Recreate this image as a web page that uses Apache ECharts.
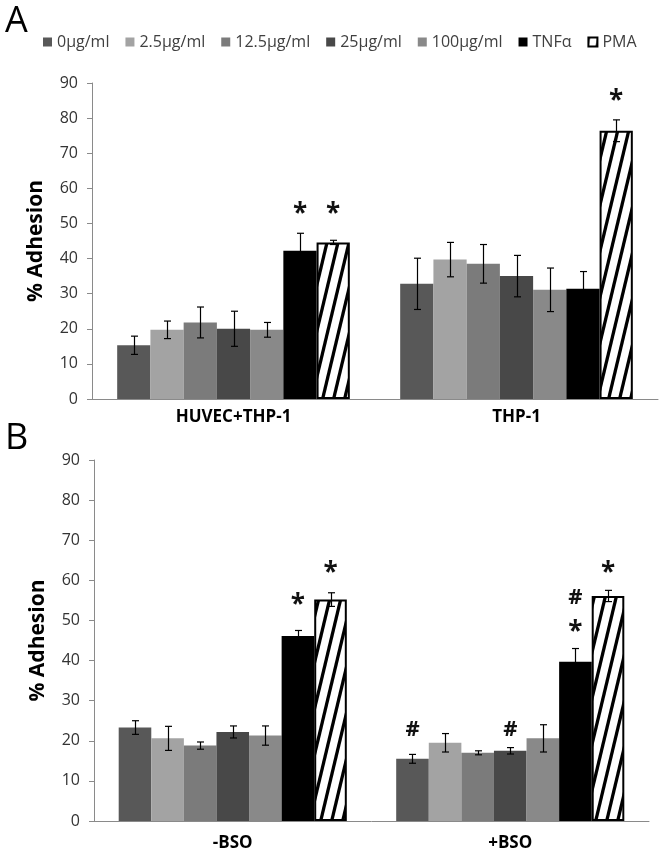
<!DOCTYPE html>
<html>
<head>
<meta charset="utf-8">
<script src="https://cdn.jsdelivr.net/npm/echarts@6/dist/echarts.min.js"></script>
<style>
html,body{margin:0;padding:0;background:#fff;}
#chart{width:664px;height:854px;}
</style>
</head>
<body>
<div id="chart"></div>
<script>
// ---------- DATA ----------
const seriesNames = ['0µg/ml', '2.5µg/ml', '12.5µg/ml', '25µg/ml', '100µg/ml', 'TNFα', 'PMA'];
const categoriesA = ['HUVEC+THP-1', 'THP-1'];
const categoriesB = ['-BSO', '+BSO'];
const yTicks = [0, 10, 20, 30, 40, 50, 60, 70, 80, 90];

// Panel A: mean % adhesion per treatment, [HUVEC+THP-1, THP-1]
const meanA = [
  [15.3, 32.8],
  [19.7, 39.7],
  [21.8, 38.5],
  [20.0, 35.0],
  [19.7, 31.1],
  [42.2, 31.4],
  [44.6, 76.4]
];
const errA = [
  [2.6, 7.3],
  [2.5, 4.9],
  [4.4, 5.5],
  [5.0, 5.9],
  [2.1, 6.2],
  [5.0, 4.9],
  [0.6, 3.1]
];
// Panel B: [-BSO, +BSO]
const meanB = [
  [23.3, 15.5],
  [20.6, 19.5],
  [18.8, 17.0],
  [22.2, 17.5],
  [21.3, 20.6],
  [46.1, 39.7],
  [55.2, 56.1]
];
const errB = [
  [1.7, 1.1],
  [3.0, 2.3],
  [0.9, 0.5],
  [1.5, 0.8],
  [2.4, 3.4],
  [1.4, 3.3],
  [1.7, 1.4]
];
// significance marks: [category, series, symbol, height in % adhesion]
const marksA = [
  [0, 5, '*', 54.5],
  [0, 6, '*', 54.5],
  [1, 6, '*', 86.6]
];
const marksB = [
  [0, 5, '*', 55.5],
  [0, 6, '*', 63.4],
  [1, 0, '#', 23.1],
  [1, 3, '#', 23.1],
  [1, 5, '#', 55.9],
  [1, 5, '*', 48.6],
  [1, 6, '*', 63.4]
];

// ---------- STYLE ----------
const colors = ['#585858', '#a3a3a3', '#7b7b7b', '#484848', '#898989', '#000000'];
const FONT = '"Open Sans", "Noto Sans", sans-serif';
const CAT_GAP = 0.178;

function makeHatch() {
  const W = 11, H = 46;
  const c = document.createElement('canvas');
  c.width = W; c.height = H;
  const ctx = c.getContext('2d');
  ctx.fillStyle = '#fff';
  ctx.fillRect(0, 0, W, H);
  ctx.strokeStyle = '#000';
  ctx.lineWidth = 3.3;
  for (const x0 of [-W, 0, W]) {
    ctx.beginPath();
    ctx.moveTo(x0 - W * 0.3, H * 1.3);
    ctx.lineTo(x0 + W * 1.3, -H * 0.3);
    ctx.stroke();
  }
  return c;
}
const hatch = makeHatch();

function barSeries(means, axisIdx) {
  return seriesNames.map((name, s) => {
    const isPMA = s === 6;
    return {
      name: name,
      type: 'bar',
      xAxisIndex: axisIdx,
      yAxisIndex: axisIdx,
      barGap: '0%',
      barCategoryGap: (CAT_GAP * 100) + '%',
      data: means[s],
      itemStyle: isPMA
        ? { color: { image: hatch, repeat: 'repeat' }, borderColor: '#000', borderWidth: 2 }
        : { color: colors[s] },
      emphasis: { disabled: true },
      animation: false
    };
  });
}

function errSeries(means, errs, axisIdx) {
  const data = [];
  means.forEach((row, s) => row.forEach((m, c) => {
    data.push([c, s, m - errs[s][c], m + errs[s][c]]);
  }));
  return {
    type: 'custom',
    xAxisIndex: axisIdx,
    yAxisIndex: axisIdx,
    z: 10,
    silent: true,
    animation: false,
    encode: { x: 0, y: 3 },
    data: data,
    renderItem: function (params, api) {
      const c = api.value(0), s = api.value(1);
      const band = api.size([1, 0])[0];
      const bw = band * (1 - CAT_GAP) / 7;
      const pHi = api.coord([c, api.value(3)]);
      const pLo = api.coord([c, api.value(2)]);
      const x = Math.round(pHi[0] + (s - 3) * bw) + 0.5;
      const cap = 3.5;
      const st = { stroke: '#000', lineWidth: 1.2 };
      return {
        type: 'group',
        children: [
          { type: 'line', shape: { x1: x, y1: pHi[1], x2: x, y2: pLo[1] }, style: st },
          { type: 'line', shape: { x1: x - cap, y1: pHi[1], x2: x + cap, y2: pHi[1] }, style: st },
          { type: 'line', shape: { x1: x - cap, y1: pLo[1], x2: x + cap, y2: pLo[1] }, style: st }
        ]
      };
    }
  };
}

function markSeries(marks, axisIdx) {
  return {
    type: 'custom',
    xAxisIndex: axisIdx,
    yAxisIndex: axisIdx,
    z: 11,
    silent: true,
    animation: false,
    encode: { x: 0, y: 3 },
    data: marks,
    renderItem: function (params, api) {
      const c = api.value(0), s = api.value(1);
      const txt = marks[params.dataIndex][2];
      const band = api.size([1, 0])[0];
      const bw = band * (1 - CAT_GAP) / 7;
      const p = api.coord([c, api.value(3)]);
      const isStar = txt === '*';
      return {
        type: 'text',
        x: p[0] + (s - 3) * bw,
        y: p[1] + (isStar ? 7 : 1),
        style: {
          text: txt,
          font: isStar ? 'bold 26px ' + FONT : 'bold 22px ' + FONT,
          fill: '#111',
          align: 'center',
          verticalAlign: 'middle'
        }
      };
    }
  };
}

function yAxis(idx) {
  return {
    type: 'value',
    gridIndex: idx,
    min: yTicks[0],
    max: yTicks[yTicks.length - 1],
    interval: yTicks[1] - yTicks[0],
    name: '% Adhesion',
    nameLocation: 'middle',
    nameGap: 45,
    nameTextStyle: { fontFamily: FONT, fontSize: 21, fontWeight: 'bold', color: '#000' },
    axisLine: { show: true, lineStyle: { color: '#8a8a8a', width: 1 } },
    axisTick: { show: true, length: 5, lineStyle: { color: '#8a8a8a' } },
    axisLabel: { fontFamily: FONT, fontSize: 16, color: '#333', margin: 14 },
    splitLine: { show: false }
  };
}

function xAxis(idx, cats, margin) {
  return {
    type: 'category',
    gridIndex: idx,
    data: cats,
    axisLine: { show: true, lineStyle: { color: '#8a8a8a', width: 1 } },
    axisTick: { show: false },
    axisLabel: { fontFamily: FONT, fontSize: 17, fontWeight: 'bold', color: '#000', margin: margin },
    splitLine: { show: false }
  };
}

const chart = echarts.init(document.getElementById('chart'), null, { renderer: 'canvas' });
chart.setOption({
  animation: false,
  backgroundColor: '#fff',
  legend: {
    data: seriesNames,
    left: 43,
    top: 34,
    padding: 0,
    itemWidth: 9,
    itemHeight: 9,
    itemGap: 16,
    icon: 'rect',
    selectedMode: false,
    textStyle: { fontFamily: FONT, fontSize: 16, color: '#404040' }
  },
  grid: [
    { left: 92, right: 6, top: 83, height: 316 },
    { left: 94, right: 15, top: 460, height: 361 }
  ],
  xAxis: [xAxis(0, categoriesA, 10), xAxis(1, categoriesB, 14)],
  yAxis: [yAxis(0), yAxis(1)],
  graphic: [
    { type: 'text', left: 5, top: 4, style: { text: 'A', font: '36px ' + FONT, fill: '#000' } },
    { type: 'text', left: 5, top: 421, style: { text: 'B', font: '36px ' + FONT, fill: '#000' } }
  ],
  series: [
    ...barSeries(meanA, 0),
    ...barSeries(meanB, 1),
    errSeries(meanA, errA, 0),
    errSeries(meanB, errB, 1),
    markSeries(marksA, 0),
    markSeries(marksB, 1)
  ]
});
</script>
</body>
</html>
